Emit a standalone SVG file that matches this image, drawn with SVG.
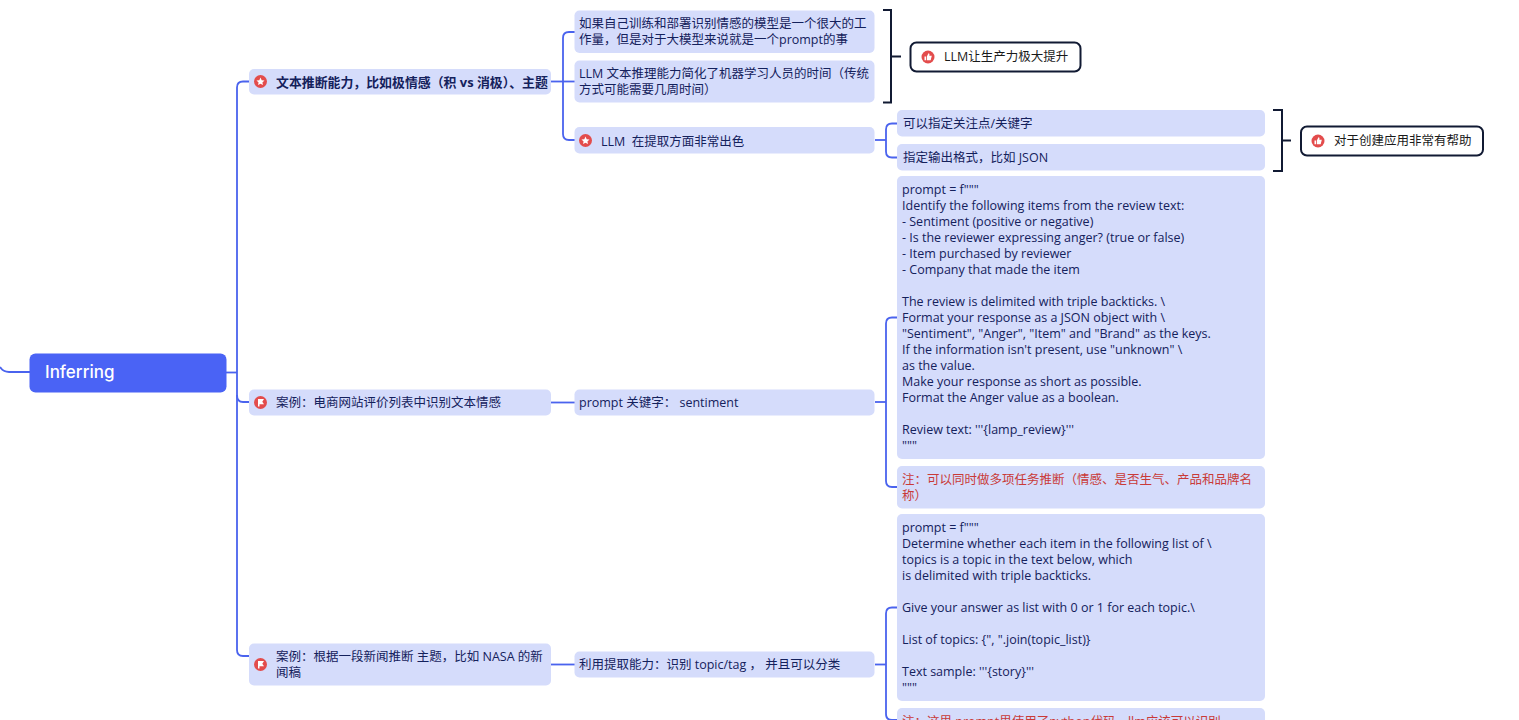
<svg xmlns="http://www.w3.org/2000/svg" width="1519" height="720" viewBox="0 0 1519 720">
<style>
text{font-family:"Open Sans","Noto Sans CJK SC",sans-serif;font-size:12.500px;fill:#14215c}
.n{fill:#d5dcfb}
.c{fill:none;stroke:#4a63ee;stroke-width:1.800}
.b{fill:none;stroke:#111a33;stroke-width:2}
.o{fill:#fff;stroke:#111a33;stroke-width:2}
.k{fill:#1a1a1a}
.ic{fill:#e34c4c}
.w{fill:#fff}
</style>
<defs>
<g id="star"><circle r="6.500" class="ic"/><path class="w" d="M0-4 1.200-1.300 4-1 1.900.9 2.500 3.600 0 2.200-2.500 3.600-1.900.9-4-1-1.200-1.300Z"/></g>
<g id="flag"><circle r="6.500" class="ic"/><path class="w" d="M-2.500-3.500H3.500L1.800-.8 3.500 1.800H-1V4H-2.500Z"/></g>
<g id="thumb"><circle r="6.500" class="ic"/><path class="w" d="M-3.500-.5H-2V3.200H-3.500ZM-1.200-.5 .5-3.800C1.500-3.800 1.700-2.500 1.300-1.200H3.800L2.700 3.200H-1.200Z"/></g>
</defs>
<g id="connectors">
<path class="c" d="M0 367C2 370 5 372 9 372H30"/>
<path class="c" d="M226 372.500H237"/>
<path class="c" d="M249 81.500H243Q237 81.500 237 87.500V650Q237 656 243 656H249"/>
<path class="c" d="M237 395Q237 402 243 402H249"/>
<path class="c" d="M551 81.500H575"/>
<path class="c" d="M575 32H569Q563 32 563 38V134Q563 140 569 140H575"/>
<path class="c" d="M551 402.500H575"/>
<path class="c" d="M551 664.500H575"/>
<path class="c" d="M875 140H886"/>
<path class="c" d="M897 123.500H892Q886 123.500 886 129.500V151.500Q886 157.500 892 157.500H897"/>
<path class="c" d="M875 402H886"/>
<path class="c" d="M897 317.500H892Q886 317.500 886 323.500V481Q886 487 892 487H897"/>
<path class="c" d="M875 664.500H886"/>
<path class="c" d="M897 607.500H892Q886 607.500 886 613.500V714Q886 720 892 720H897"/>
<path class="b" d="M883 10H891V102.500H883M891 56.500H901"/>
<path class="b" d="M1273 110H1282V171H1273M1282 140.500H1291"/>
</g>
<g id="root"><rect x="29.500" y="353.500" width="197" height="39" rx="6" fill="#4a63f5"/><text x="45" y="378" style="font-family:Inter,sans-serif;font-size:17px;fill:#fff;font-weight:500">Inferring</text></g>
<g id="n1"><rect class="n" x="249" y="69" width="302" height="25.500" rx="5"/><use href="#star" x="260.500" y="81.500"/><text x="276" y="86.500" font-weight="700" style="font-size:12.900px">文本推断能力，比如极情感（积 vs 消极）、主题</text></g>
<g id="n2"><rect class="n" x="249" y="389.500" width="302" height="26" rx="5"/><use href="#flag" x="260.500" y="402.500"/><text x="276" y="407">案例：电商网站评价列表中识别文本情感</text></g>
<g id="n3"><rect class="n" x="249" y="643.500" width="302" height="42" rx="5"/><use href="#flag" x="260.500" y="664.500"/><text x="276" y="661">案例：根据一段新闻推断 主题，比如 NASA 的新</text><text x="276" y="677">闻稿</text></g>
<g id="n11"><rect class="n" x="574.500" y="10.500" width="300" height="42.500" rx="5"/><text x="579" y="28">如果自己训练和部署识别情感的模型是一个很大的工</text><text x="579" y="44">作量，但是对于大模型来说就是一个prompt的事</text></g>
<g id="n12"><rect class="n" x="574.500" y="60.500" width="300" height="42" rx="5"/><text x="579" y="78">LLM 文本推理能力简化了机器学习人员的时间（传统</text><text x="579" y="94">方式可能需要几周时间）</text></g>
<g id="n13"><rect class="n" x="574.500" y="127" width="300" height="26.500" rx="5"/><use href="#star" x="585.500" y="140.500"/><text x="601" y="145.500" xml:space="preserve">LLM  在提取方面非常出色</text></g>
<g id="n131"><rect class="n" x="897" y="110" width="368" height="26.500" rx="5"/><text x="903" y="128">可以指定关注点/关键字</text></g>
<g id="n132"><rect class="n" x="897" y="144" width="368" height="26.500" rx="5"/><text x="903" y="162">指定输出格式，比如 JSON</text></g>
<g id="s1"><rect class="o" x="910.500" y="42.500" width="170" height="29" rx="6"/><use href="#thumb" x="928" y="57"/><text class="k" x="944" y="61">LLM让生产力极大提升</text></g>
<g id="s2"><rect class="o" x="1301" y="126.500" width="182" height="29" rx="6"/><use href="#thumb" x="1318" y="141"/><text class="k" x="1334" y="145">对于创建应用非常有帮助</text></g>
<g id="n21"><rect class="n" x="574.500" y="389.500" width="300" height="26" rx="5"/><text x="579" y="407">prompt 关键字： sentiment</text></g>
<g id="n211"><rect class="n" x="897" y="176" width="368" height="283" rx="5"/><text x="902" y="194"><tspan x="902">prompt = f"""</tspan><tspan x="902" dy="16">Identify the following items from the review text:</tspan><tspan x="902" dy="16">- Sentiment (positive or negative)</tspan><tspan x="902" dy="16">- Is the reviewer expressing anger? (true or false)</tspan><tspan x="902" dy="16">- Item purchased by reviewer</tspan><tspan x="902" dy="16">- Company that made the item</tspan><tspan x="902" dy="32">The review is delimited with triple backticks. \</tspan><tspan x="902" dy="16">Format your response as a JSON object with \</tspan><tspan x="902" dy="16">"Sentiment", "Anger", "Item" and "Brand" as the keys.</tspan><tspan x="902" dy="16">If the information isn't present, use "unknown" \</tspan><tspan x="902" dy="16">as the value.</tspan><tspan x="902" dy="16">Make your response as short as possible.</tspan><tspan x="902" dy="16">Format the Anger value as a boolean.</tspan><tspan x="902" dy="32">Review text: '''{lamp_review}'''</tspan><tspan x="902" dy="16">"""</tspan></text></g>
<g id="n212"><rect class="n" x="897" y="466" width="368" height="42.500" rx="5"/><text x="902" y="484" style="fill:#c93a38">注：可以同时做多项任务推断（情感、是否生气、产品和品牌名</text><text x="902" y="500" style="fill:#c93a38">称）</text></g>
<g id="n31"><rect class="n" x="574.500" y="651.500" width="300" height="26" rx="5"/><text x="579" y="669">利用提取能力：识别 topic/tag ， 并且可以分类</text></g>
<g id="n311"><rect class="n" x="897" y="514" width="368" height="187" rx="5"/><text x="902" y="532"><tspan x="902">prompt = f"""</tspan><tspan x="902" dy="16">Determine whether each item in the following list of \</tspan><tspan x="902" dy="16">topics is a topic in the text below, which</tspan><tspan x="902" dy="16">is delimited with triple backticks.</tspan><tspan x="902" dy="32">Give your answer as list with 0 or 1 for each topic.\</tspan><tspan x="902" dy="32">List of topics: {", ".join(topic_list)}</tspan><tspan x="902" dy="32">Text sample: '''{story}'''</tspan><tspan x="902" dy="16">"""</tspan></text></g>
<g id="n312"><rect class="n" x="897" y="708" width="368" height="30" rx="5"/><text x="902" y="726" style="fill:#c93a38">注：这里 prompt里使用了python代码，llm应该可以识别</text></g>
</svg>
